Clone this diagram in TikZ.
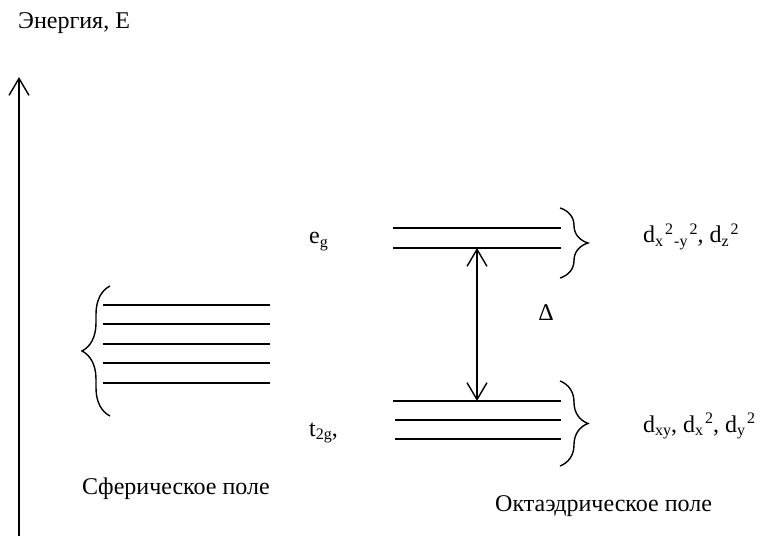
\documentclass[tikz,border=0pt]{standalone}
\usepackage{fontspec}
\setmainfont{Liberation Serif}
\usetikzlibrary{arrows.meta,decorations.pathreplacing}
\newcommand{\mysb}[1]{\raisebox{-3.5bp}{\fontsize{16bp}{16bp}\selectfont #1}}
\newcommand{\mysp}[1]{\kern2bp\raisebox{8.5bp}{\fontsize{16bp}{16bp}\selectfont #1}}
\begin{document}
\begin{tikzpicture}[x=1bp,y=-1bp,
  lvl/.style={line width=1.4bp},
  openarrow/.style={line width=1.4bp,-{Straight Barb[length=17bp,width=20bp,line width=1.4bp]}},
  dblarrow/.style={line width=1.4bp,{Straight Barb[length=17bp,width=20bp,line width=1.4bp]}-{Straight Barb[length=17bp,width=20bp,line width=1.4bp]}},
  bracestyle/.style={line width=1.4bp,decorate,decoration={brace,amplitude=28bp,aspect=0.5}},
  lbl/.style={inner sep=0pt,anchor=base west,font=\fontsize{24bp}{28bp}\selectfont}]
\useasboundingbox (0,0) rectangle (764,536);
% energy axis
\coordinate (axbot) at (19,536);
\coordinate (axtop) at (19,77);
\draw[openarrow] (axbot) -- (axtop);
\node[lbl] (title) at (18,29) {Энергия, E};
% spherical field levels
\foreach \y [count=\i] in {305,324,344,363,383}{
  \coordinate (sA\i) at (103,\y);
  \coordinate (sB\i) at (270,\y);
  \draw[lvl] (sA\i) -- (sB\i);
}
\coordinate (lbB) at (110,416);
\coordinate (lbT) at (110,286);
\draw[bracestyle] (lbB) -- (lbT);
\node[lbl] (sph) at (82,494) {Сферическое поле};
% octahedral eg levels
\coordinate (eA1) at (393,228); \coordinate (eB1) at (561,228);
\coordinate (eA2) at (393,248); \coordinate (eB2) at (561,248);
\draw[lvl] (eA1) -- (eB1);
\draw[lvl] (eA2) -- (eB2);
% t2g levels
\coordinate (tA1) at (393,401); \coordinate (tB1) at (561,401);
\coordinate (tA2) at (395,420); \coordinate (tB2) at (561,420);
\coordinate (tA3) at (395,439); \coordinate (tB3) at (561,439);
\draw[lvl] (tA1) -- (tB1);
\draw[lvl] (tA2) -- (tB2);
\draw[lvl] (tA3) -- (tB3);
% splitting arrow
\coordinate (dTop) at (477,248);
\coordinate (dBot) at (477,401);
\draw[dblarrow] (dTop) -- (dBot);
\node[lbl,anchor=base] (delta) at (546,320) {Δ};
% right braces
\coordinate (rb1T) at (560,208); \coordinate (rb1B) at (560,278);
\draw[bracestyle] (rb1T) -- (rb1B);
\coordinate (rb2T) at (560,381); \coordinate (rb2B) at (560,466);
\draw[bracestyle] (rb2T) -- (rb2B);
% labels
\node[lbl] (eg) at (309,244) {e\mysb{g}};
\node[lbl] (t2g) at (309,436) {t\mysb{2g},};
\node[lbl] (dup) at (643,243) {d\mysb{x}\mysp{2}\kern1bp\mysb{-y}\mysp{2}, d\mysb{z}\mysp{2}};
\node[lbl] (ddn) at (643,432) {d\mysb{xy}, d\mysb{x}\mysp{2}, d\mysb{y}\mysp{2}};
\node[lbl] (oct) at (495,511) {Октаэдрическое поле};
\end{tikzpicture}
\end{document}
